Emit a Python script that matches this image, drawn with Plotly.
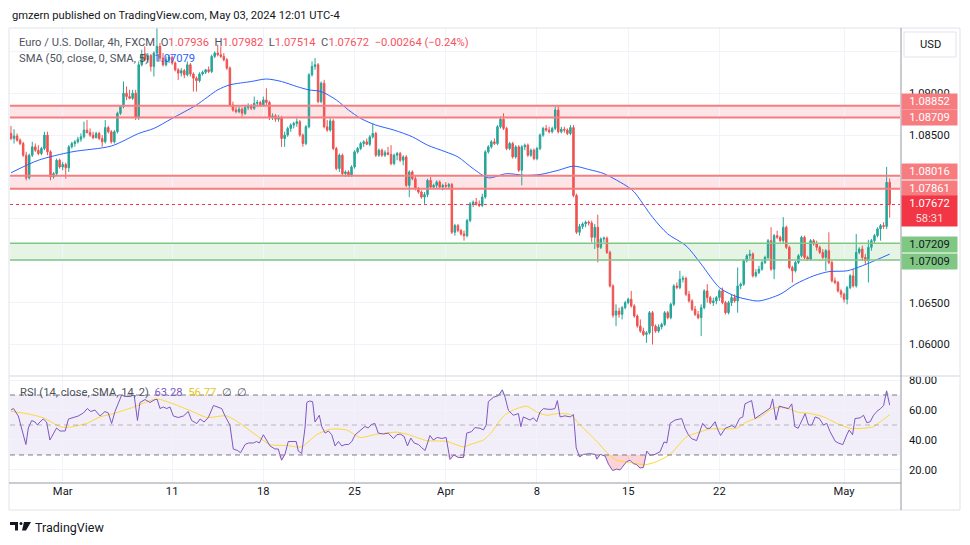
import plotly.graph_objects as go

# EUR/USD 4h (FXCM) candles, values in pips above 1.0000 (852 -> 1.0852)
opens = [852, 846, 849, 844, 840, 826, 799, 826, 836, 832,
         828, 834, 850, 830, 800, 804, 820, 812, 815, 811,
         836, 840, 842, 845, 848, 856, 853, 850, 847, 852,
         846, 842, 859, 854, 842, 854, 876, 884, 900, 896,
         894, 900, 871, 934, 946, 940, 945, 932, 948, 956,
         942, 934, 940, 943, 936, 928, 924, 927, 922, 934,
         923, 918, 915, 923, 925, 928, 926, 944, 948, 946,
         944, 940, 930, 886, 880, 878, 881, 876, 883, 885,
         882, 888, 889, 886, 892, 889, 871, 873, 869, 871,
         846, 850, 858, 862, 864, 866, 850, 840, 860, 922,
         932, 934, 890, 912, 860, 856, 867, 834, 810, 826,
         804, 806, 802, 812, 830, 834, 840, 842, 839, 848,
         852, 826, 832, 826, 829, 827, 816, 826, 828, 820,
         824, 790, 806, 798, 786, 782, 776, 779, 796, 788,
         790, 794, 788, 790, 789, 791, 734, 742, 736, 732,
         730, 748, 768, 770, 767, 766, 776, 830, 836, 842,
         840, 860, 869, 858, 834, 840, 824, 836, 808, 836,
         838, 826, 832, 822, 834, 850, 858, 856, 854, 858,
         880, 854, 857, 856, 852, 859, 778, 734, 741, 744,
         746, 745, 728, 740, 716, 726, 727, 710, 670, 635,
         640, 636, 644, 650, 654, 646, 634, 622, 616, 612,
         614, 638, 622, 616, 621, 624, 638, 632, 648, 670,
         668, 678, 679, 660, 652, 642, 636, 632, 644, 664,
         656, 650, 652, 656, 664, 650, 638, 650, 656, 652,
         670, 672, 700, 706, 708, 682, 686, 690, 698, 704,
         724, 690, 730, 728, 724, 740, 716, 692, 688, 698,
         706, 728, 704, 702, 724, 720, 716, 710, 704, 712,
         698, 676, 674, 664, 660, 654, 668, 682, 670, 710,
         714, 704, 700, 716, 724, 730, 738, 742, 741, 793.6]
highs = [861, 857, 852, 846, 842, 830, 828, 842, 840, 838,
         836, 854, 854, 832, 806, 822, 822, 818, 817, 838,
         842, 844, 848, 852, 866, 868, 858, 854, 854, 854,
         850, 868, 861, 856, 856, 878, 886, 914, 908, 904,
         904, 904, 938, 952, 956, 948, 947, 950, 978, 960,
         948, 944, 946, 945, 938, 930, 930, 929, 938, 936,
         925, 920, 925, 927, 929, 932, 946, 950, 958, 956,
         948, 942, 932, 890, 884, 884, 883, 886, 888, 887,
         896, 892, 891, 896, 906, 891, 876, 875, 874, 873,
         854, 860, 864, 866, 870, 868, 852, 862, 924, 938,
         942, 936, 914, 916, 868, 870, 869, 836, 828, 828,
         808, 808, 814, 832, 836, 842, 844, 846, 850, 864,
         854, 834, 834, 832, 836, 838, 828, 830, 830, 826,
         826, 808, 808, 802, 788, 784, 782, 798, 800, 792,
         796, 796, 792, 794, 793, 793, 744, 744, 738, 736,
         750, 770, 772, 775, 772, 780, 832, 838, 844, 846,
         862, 872, 876, 860, 842, 842, 838, 838, 838, 840,
         840, 834, 834, 836, 852, 860, 862, 860, 860, 884,
         886, 860, 860, 858, 862, 862, 780, 744, 746, 748,
         748, 748, 744, 755, 728, 729, 729, 712, 672, 648,
         644, 646, 652, 656, 664, 648, 636, 630, 620, 616,
         640, 640, 624, 624, 626, 640, 640, 650, 672, 674,
         688, 682, 681, 664, 654, 646, 640, 648, 666, 672,
         658, 656, 658, 666, 668, 652, 652, 660, 660, 692,
         674, 702, 708, 713, 710, 690, 694, 700, 706, 726,
         740, 732, 736, 730, 752, 742, 718, 694, 700, 708,
         730, 730, 706, 726, 726, 724, 718, 714, 714, 734,
         700, 680, 676, 666, 662, 670, 684, 690, 732, 716,
         718, 708, 725, 726, 732, 740, 744, 746, 812, 798.2]
lows = [844, 840, 842, 838, 824, 796, 797, 824, 830, 826,
        826, 832, 826, 796, 798, 802, 810, 808, 798, 806,
        834, 836, 840, 842, 846, 852, 848, 845, 846, 844,
        836, 840, 852, 840, 840, 852, 874, 882, 892, 893,
        892, 868, 868, 932, 938, 936, 926, 920, 938, 938,
        932, 932, 936, 934, 926, 916, 920, 918, 920, 920,
        902, 902, 913, 921, 923, 924, 924, 942, 944, 942,
        938, 928, 884, 878, 876, 876, 872, 874, 880, 880,
        880, 884, 884, 884, 886, 868, 868, 866, 866, 836,
        836, 848, 854, 858, 860, 848, 836, 838, 858, 920,
        928, 888, 888, 858, 854, 854, 832, 808, 806, 802,
        800, 800, 800, 810, 828, 832, 836, 838, 837, 846,
        824, 824, 824, 824, 826, 814, 814, 820, 818, 814,
        788, 776, 796, 784, 780, 774, 768, 776, 786, 786,
        786, 786, 784, 786, 786, 732, 730, 734, 730, 724,
        728, 746, 764, 766, 764, 764, 774, 828, 834, 838,
        838, 858, 856, 832, 832, 822, 822, 806, 790, 832,
        824, 824, 820, 820, 832, 848, 854, 852, 852, 856,
        852, 852, 853, 850, 850, 776, 732, 730, 738, 740,
        742, 722, 714, 698, 714, 722, 708, 668, 632, 622,
        632, 630, 642, 648, 644, 632, 620, 614, 610, 602,
        612, 600, 614, 614, 618, 622, 630, 630, 646, 666,
        666, 674, 658, 650, 640, 634, 630, 610, 642, 650,
        648, 646, 648, 652, 648, 636, 636, 646, 650, 638,
        666, 670, 698, 702, 680, 680, 684, 688, 696, 702,
        688, 678, 726, 722, 720, 714, 690, 674, 686, 696,
        704, 702, 700, 700, 718, 712, 708, 702, 688, 696,
        674, 672, 662, 656, 650, 648, 666, 668, 668, 708,
        700, 696, 674, 712, 720, 728, 724, 738, 738, 751.4]
closes = [846, 849, 844, 840, 826, 799, 826, 836, 832, 828,
          834, 850, 830, 800, 804, 820, 812, 815, 811, 836,
          840, 842, 845, 848, 856, 853, 850, 847, 852, 846,
          842, 859, 854, 842, 854, 876, 884, 900, 896, 894,
          900, 871, 934, 946, 940, 945, 932, 948, 956, 942,
          934, 940, 943, 936, 928, 924, 927, 922, 934, 923,
          918, 915, 923, 925, 928, 926, 944, 948, 946, 944,
          940, 930, 886, 880, 878, 881, 876, 883, 885, 882,
          888, 889, 886, 892, 889, 871, 873, 869, 871, 846,
          850, 858, 862, 864, 866, 850, 840, 860, 922, 932,
          934, 890, 912, 860, 856, 867, 834, 810, 826, 804,
          806, 802, 812, 830, 834, 840, 842, 839, 848, 852,
          826, 832, 826, 829, 827, 816, 826, 828, 820, 824,
          790, 806, 798, 786, 782, 776, 779, 796, 788, 790,
          794, 788, 790, 789, 791, 734, 742, 736, 732, 730,
          748, 768, 770, 767, 766, 776, 830, 836, 842, 840,
          860, 869, 858, 834, 840, 824, 836, 808, 836, 838,
          826, 832, 822, 834, 850, 858, 856, 854, 858, 880,
          854, 857, 856, 852, 859, 778, 734, 741, 744, 746,
          745, 728, 740, 716, 726, 727, 710, 670, 635, 640,
          636, 644, 650, 654, 646, 634, 622, 616, 612, 614,
          638, 622, 616, 621, 624, 638, 632, 648, 670, 668,
          678, 679, 660, 652, 642, 636, 632, 644, 664, 656,
          650, 652, 656, 664, 650, 638, 650, 656, 652, 670,
          672, 700, 706, 708, 682, 686, 690, 698, 704, 724,
          690, 730, 728, 724, 740, 716, 692, 688, 698, 706,
          728, 704, 702, 724, 720, 716, 710, 704, 712, 698,
          676, 674, 664, 660, 654, 668, 682, 670, 710, 714,
          704, 700, 716, 724, 730, 738, 742, 741, 793.6, 767.2]

# bar index of the first bar of each labelled day
date_bars = [17, 53, 83, 113, 143, 173, 203, 233, 274]
date_text = ["Mar", "11", "18", "25", "Apr", "8", "15", "22", "May"]

# SMA(50) (pips above 1.0000)
sma_bar = [0, 9, 20, 33, 42, 47, 53, 61, 68, 72, 79, 84, 89, 94, 98, 102, 107, 111,
           115, 120, 126, 132, 137, 143, 147, 152, 157, 163, 169, 174, 180, 185, 190,
           195, 203, 205, 211, 216, 222, 227, 233, 238, 242, 246, 253, 258, 264, 269,
           275, 280, 289]
sma_val = [805, 820, 830, 837, 852, 858, 870, 886, 904, 910, 914, 917, 914, 908, 904,
           902, 892, 880, 870, 862, 856, 848, 838, 830, 824, 810, 799, 804, 802, 803,
           808, 813, 809, 804, 788, 782, 752, 732, 718, 696, 668, 658, 654, 652, 660,
           672, 682, 687, 688, 694, 707.9]

# RSI(14)
rsi_bar = [0, 0.8, 2.4, 3.5, 4.9, 5.7, 6.8, 7.9, 8.7, 9.5, 10.6, 11.7, 12.8, 13.9, 15,
           16.1, 17.8, 18.9, 20.5, 22.1, 23.8, 25.1, 26.2, 27.6, 29.3, 30.9, 32, 33.1,
           34.2, 35.3, 36.4, 37.5, 39.1, 40.5, 41.6, 42.4, 44.1, 45.7, 47.4, 48.1, 49,
           50.1, 51.2, 52.3, 53.4, 55, 56.7, 58.3, 59.4, 61.1, 62.2, 63.5, 64.9, 66.6,
           68.2, 69.3, 70.4, 72, 73.1, 74.5, 75.5, 77, 78.1, 79.7, 80.8, 81.7, 83, 84.1,
           85.2, 86.8, 87.9, 89, 90.1, 91.2, 92.7, 93.8, 94.5, 95.6, 96.7, 97.3, 98.1,
           99.2, 100, 101.4, 102.2, 103.3, 104.4, 105.5, 106.6, 107.7, 108.8, 109.9,
           111, 112.1, 113.2, 114.8, 116.4, 117.5, 118.6, 119.7, 120.8, 122.5, 124.1,
           125.8, 126.9, 128, 129.3, 130.4, 131.5, 132.6, 134, 135.1, 136.2, 137.8,
           138.9, 140.2, 141.7, 143.1, 144.4, 145.7, 147.1, 148.8, 149.9, 151.5, 152.6,
           154.3, 155.4, 156.3, 157, 158.7, 160.3, 161.6, 162.5, 163.6, 165.2, 166.9,
           167.7, 168.5, 169.6, 170.7, 171.8, 172.9, 174, 175.1, 177.3, 178.9, 179.7,
           180.6, 182.2, 183.9, 185, 185.9, 187, 188.3, 190.5, 192.1, 192.7, 193.8,
           195.4, 196.5, 197.9, 199.2, 200.3, 201.4, 202.5, 203.6, 204.7, 205.8, 206.9,
           208, 209.1, 210.2, 211.8, 213.5, 214.8, 215.7, 216.8, 218.4, 219.9, 220.6,
           221.7, 222.8, 223.9, 225.5, 227.5, 228.8, 229.9, 231.6, 232.3, 233.4, 234.9,
           237.1, 238.2, 239.6, 240.7, 241.4, 242.5, 243.6, 244.7, 246.4, 248, 249.7,
           250.5, 251.6, 252.7, 254, 255.7, 256.8, 257.8, 258.9, 261.2, 262.3, 263.4,
           264.5, 265.9, 267.2, 268.3, 269.4, 271.1, 272.1, 273.6, 274.9, 275.7, 276.8,
           277.6, 279.3, 280.4, 281.5, 282.6, 283.7, 284.8, 286, 287, 288, 289]
rsi_val = [60, 61, 56, 48, 37, 48, 53, 52, 50, 52, 54, 52, 40, 44, 48,
           46, 46, 54, 55, 56, 58, 61, 59, 60, 56, 59, 58, 51,
           59, 64, 70, 69, 69, 70, 53, 65, 67, 65, 67, 67, 61,
           62, 61, 62, 56, 55, 56, 59, 53, 51, 54, 52, 55, 63,
           62, 61, 56, 50, 34, 33, 31.5, 37, 38, 38, 39, 38, 43.5, 40,
           36, 34, 34, 26.5, 30.4, 39, 39, 39, 32.6, 31, 48, 65, 66,
           65.6, 52, 56.5, 49, 44.6, 46, 43.5, 36, 39, 36, 37,
           37, 39, 43.5, 46, 49, 48, 50.4, 51, 44.6, 44, 44.6,
           41, 43.5, 44, 42.4, 36, 41.3, 38, 37, 34.8, 33, 43,
           40, 41.7, 41, 41.7, 27, 30, 28.3, 28.3, 44.6, 45.6, 48.3,
           47.8, 46.7, 50, 65.6, 68.5, 69.6, 73.5, 68.5, 59.8, 56.5, 57.6,
           48.9, 55.4, 54.3, 53.3, 54.8, 52.2, 58.7, 60.9, 60.4, 60.9, 66.3,
           55.4, 56.1, 55.4, 57, 34.8, 28.7, 30.4, 30.9, 30.4, 27.2, 30.4,
           29.3, 23.9, 19.6, 20.6, 20, 22.8, 25.6, 26.5, 24.3, 23.5, 21.3,
           21.7, 32.6, 29.8, 30.4, 32.2, 38.7, 38, 51.1, 53.3, 54.3, 54.3,
           47.8, 43.5, 40.8, 39.6, 51.1, 47.8, 47.8, 52.2, 47.8, 43, 47.8,
           49.6, 48.3, 54.3, 55.4, 64.1, 65.2, 66.3, 54.3, 56.5, 59.1, 61.3,
           67.4, 53.3, 62.6, 61.9, 60.9, 64.1, 48.9, 47.8, 57.6, 50, 50,
           55.4, 54.3, 50, 51.1, 45.6, 39.1, 38, 36.9, 43.5, 46.7, 43.5,
           54.3, 54.8, 56.5, 51.5, 52.2, 56.5, 59.1, 60.9, 63, 72.8, 63.28]

# SMA(14) of the RSI
rsima_bar = [0, 5.2, 10.6, 16.1, 18.3, 24.9, 29.3, 33.7, 40.2, 47.9, 53.4, 60, 64.4,
             70.9, 75.3, 81.9, 85.2, 90.7, 95.6, 100.5, 104.9, 110.4, 114.8, 120.3,
             126.9, 130.2, 136.7, 143.3, 148.8, 151, 155.4, 158, 162, 165.2, 169.6,
             172.9, 176.2, 179.5, 183.9, 187.2, 192.7, 196, 199.2, 203.6, 208.6, 212.4,
             216.8, 222.3, 225.5, 229.9, 234.3, 238.7, 242, 246.4, 250.8, 255.2, 258.5,
             262.9, 267.3, 271.6, 276, 280.4, 283.7, 285.9, 289]
rsima_val = [59.1, 57.6, 54.8, 48.9, 48.3, 51.1, 55.4, 57.6, 61.9, 67.4, 64.1, 58.7, 55,
             56.1, 51.1, 41.3, 36.9, 36.3, 35.4, 43.5, 47.2, 46.7, 41.7, 43.9,
             45.2, 43.9, 39.6, 39.1, 35.4, 37, 40, 45, 56, 60, 62.6,
             58.7, 56.5, 57.6, 57, 50, 39.1, 31.5, 26.5, 25, 23.5, 25.6,
             30.4, 42.4, 44.6, 47.4, 47.4, 47.8, 52.2, 55.4, 61.3, 61.3, 58.7,
             57.6, 55.4, 51.1, 47.8, 47.8, 48.9, 52.2, 56.77]

# horizontal zones drawn on the chart (bottom, top, kind)
zone_lo = [1.08709, 1.07861, 1.07009]
zone_hi = [1.08852, 1.08016, 1.07209]
zone_kind = ["red", "red", "green"]

UP, DOWN = "#26a69a", "#ef5350"


def price(v):
    return 1 + v / 10000


# the page body has an 8px margin, so the figure sits at (8, 8) in the window;
# px/py convert window pixels into paper coordinates of the plot area
L, R, T, B = 2, 70, 20, 62
FW, FH = 962, 537
W, H = FW - L - R, FH - T - B


def px(x):
    return (x - 8 - L) / W


def py(y):
    return (FH - B + 8 - y) / H


bars = list(range(len(closes)))
fig = go.Figure()

fig.add_trace(go.Candlestick(
    x=bars, open=[price(v) for v in opens], high=[price(v) for v in highs],
    low=[price(v) for v in lows], close=[price(v) for v in closes],
    increasing=dict(line=dict(color=UP, width=1), fillcolor=UP),
    decreasing=dict(line=dict(color=DOWN, width=1), fillcolor=DOWN),
    whiskerwidth=0, xaxis="x", yaxis="y", hoverinfo="skip"))

fig.add_trace(go.Scatter(x=sma_bar, y=[price(v) for v in sma_val], mode="lines",
                         line=dict(color="#2962ff", width=1, shape="spline", smoothing=0.8),
                         xaxis="x", yaxis="y"))

# RSI oversold / overbought fills
fig.add_trace(go.Scatter(x=rsi_bar, y=[30] * len(rsi_bar), mode="lines", line=dict(width=0),
                         xaxis="x2", yaxis="y2"))
fig.add_trace(go.Scatter(x=rsi_bar, y=[min(v, 30) for v in rsi_val], mode="lines",
                         line=dict(width=0), fill="tonexty", fillcolor="rgba(242,54,69,0.22)",
                         xaxis="x2", yaxis="y2"))
fig.add_trace(go.Scatter(x=rsi_bar, y=[70] * len(rsi_bar), mode="lines", line=dict(width=0),
                         xaxis="x2", yaxis="y2"))
fig.add_trace(go.Scatter(x=rsi_bar, y=[max(v, 70) for v in rsi_val], mode="lines",
                         line=dict(width=0), fill="tonexty", fillcolor="rgba(8,153,129,0.22)",
                         xaxis="x2", yaxis="y2"))
fig.add_trace(go.Scatter(x=rsima_bar, y=rsima_val, mode="lines",
                         line=dict(color="#fdd835", width=1, shape="spline", smoothing=0.6),
                         xaxis="x2", yaxis="y2"))
fig.add_trace(go.Scatter(x=rsi_bar, y=rsi_val, mode="lines",
                         line=dict(color="#7e57c2", width=1), xaxis="x2", yaxis="y2"))

shapes = []
# zones
for lo, hi, kind in zip(zone_lo, zone_hi, zone_kind):
    fill = "rgba(242,54,69,0.13)" if kind == "red" else "rgba(76,175,80,0.14)"
    edge = "#f77c80" if kind == "red" else "#81c784"
    shapes.append(dict(type="rect", xref="paper", yref="y", x0=0, x1=1, y0=lo, y1=hi,
                       fillcolor=fill, line=dict(width=0), layer="below"))
    for yv in (lo, hi):
        shapes.append(dict(type="line", xref="paper", yref="y", x0=0, x1=1, y0=yv, y1=yv,
                           line=dict(color=edge, width=2 if kind == "red" else 1.5)))

last = price(closes[-1])
shapes.append(dict(type="line", xref="paper", yref="y", x0=0, x1=1, y0=last, y1=last,
                   line=dict(color="#f23645", width=1, dash="dot")))

# RSI band and levels
shapes.append(dict(type="rect", xref="paper", yref="y2", x0=0, x1=1, y0=30, y1=70,
                   fillcolor="rgba(126,87,194,0.1)", line=dict(width=0), layer="below"))
for lvl, col in ((70, "#787b86"), (50, "rgba(120,123,134,0.5)"), (30, "#787b86")):
    shapes.append(dict(type="line", xref="paper", yref="y2", x0=0, x1=1, y0=lvl, y1=lvl,
                       line=dict(color=col, width=1, dash="5px,4px")))

# frame, pane separator, axis borders
frame = "#e0e3eb"
ink = "#131722"
shapes += [
    dict(type="rect", xref="paper", yref="paper", x0=px(9), x1=px(960), y0=py(510), y1=py(28),
         line=dict(color=frame, width=1)),
    # the pane separator clips the top of the "80.00" label
    dict(type="rect", xref="paper", yref="paper", x0=px(902), x1=px(959), y0=py(376), y1=py(368),
         line=dict(width=0), fillcolor="white"),
    dict(type="line", xref="paper", yref="paper", x0=px(9), x1=px(960), y0=py(376), y1=py(376),
         line=dict(color=frame, width=1.5)),
    dict(type="line", xref="paper", yref="paper", x0=px(9), x1=px(901), y0=py(483), y1=py(483),
         line=dict(color="#9598a1", width=1)),
    dict(type="line", xref="paper", yref="paper", x0=px(901), x1=px(901), y0=py(510), y1=py(28),
         line=dict(color="#9598a1", width=1)),
    # USD button
    dict(type="rect", xref="paper", yref="paper", x0=px(904), x1=px(956), y0=py(57), y1=py(32),
         line=dict(color=frame, width=1), fillcolor="white"),
    # TradingView logo
    dict(type="rect", xref="paper", yref="paper", x0=px(10), x1=px(18), y0=py(525), y1=py(522),
         line=dict(width=0), fillcolor=ink),
    dict(type="rect", xref="paper", yref="paper", x0=px(15), x1=px(18), y0=py(530.5), y1=py(522),
         line=dict(width=0), fillcolor=ink),
    dict(type="circle", xref="paper", yref="paper", x0=px(19.5), x1=px(22.5), y0=py(525), y1=py(522),
         line=dict(width=0), fillcolor=ink),
    dict(type="path", xref="paper", yref="paper", line=dict(width=0), fillcolor=ink,
         path=f"M {px(24)} {py(522)} L {px(31)} {py(522)} L {px(26)} {py(530.5)} "
              f"L {px(22)} {py(530.5)} Z"),
]

FONT = "Roboto"
FS = 11.2
ann = []
ann.append(dict(xref="paper", yref="paper", x=px(10), y=py(15), xanchor="left", yanchor="middle",
                text="gmzern published on TradingView.com, May 03, 2024 12:01 UTC-4",
                showarrow=False, font=dict(family=FONT, size=FS, color=ink)))

o, h, l, c = (price(v) for v in (opens[-1], highs[-1], lows[-1], closes[-1]))
chg = (closes[-1] - closes[-2]) / 10000
pct = chg / price(closes[-2]) * 100
red = "#f7525f"
head = ("Euro / U.S. Dollar, 4h, FXCM&nbsp;&nbsp;"
        f"O<span style='color:{red}'>{o:.5f}</span>&nbsp;&nbsp;"
        f"H<span style='color:{red}'>{h:.5f}</span>&nbsp;&nbsp;"
        f"L<span style='color:{red}'>{l:.5f}</span>&nbsp;&nbsp;"
        f"C<span style='color:{red}'>{c:.5f}</span>&nbsp;&nbsp;"
        f"<span style='color:{red}'>{chg:+.5f} ({pct:+.2f}%)</span>").replace("-", "−")
ann.append(dict(xref="paper", yref="paper", x=px(17), y=py(42), xanchor="left", yanchor="middle",
                text=head, showarrow=False, font=dict(family=FONT, size=FS, color="#50535e")))
ann.append(dict(xref="paper", yref="paper", x=px(17), y=py(59), xanchor="left", yanchor="middle",
                text=f"SMA (50, close, 0, SMA, 5)&nbsp;&nbsp;<span style='color:#2962ff'>"
                     f"{price(sma_val[-1]):.5f}</span>",
                showarrow=False, font=dict(family=FONT, size=FS, color="#50535e")))
ann.append(dict(xref="paper", yref="paper", x=px(18), y=py(392), xanchor="left", yanchor="middle",
                text=f"RSI (14, close, SMA, 14, 2)&nbsp;&nbsp;<span style='color:#7e57c2'>"
                     f"{rsi_val[-1]:.2f}</span>&nbsp;&nbsp;<span style='color:#e6c619'>"
                     f"{rsima_val[-1]:.2f}</span>&nbsp;&nbsp;∅&nbsp;&nbsp;∅",
                showarrow=False, font=dict(family=FONT, size=FS, color="#50535e")))
ann.append(dict(xref="paper", yref="paper", x=px(930), y=py(45), xanchor="center", yanchor="middle",
                text="USD", showarrow=False, font=dict(family=FONT, size=FS, color=ink)))
ann.append(dict(xref="paper", yref="paper", x=px(33), y=py(527), xanchor="left", yanchor="middle",
                text="TradingView", showarrow=False, font=dict(family=FONT, size=12.5, color=ink)))

# price labels on the right axis
shifts = {1.08852: 4, 1.08709: 0, 1.08016: 4, 1.07861: 0, 1.07209: -1, 1.07009: -1}
for lo, hi, kind in zip(zone_lo, zone_hi, zone_kind):
    for yv in (hi, lo):
        bg = "#f77c80" if kind == "red" else "#81c784"
        fc = "white" if kind == "red" else ink
        ann.append(dict(xref="paper", yref="y", x=px(901), y=yv, xanchor="left", yanchor="middle",
                        yshift=shifts.get(yv, 0), text=f"{yv:.5f}", showarrow=False,
                        bgcolor=bg, width=55, height=15, borderpad=0,
                        font=dict(family=FONT, size=FS, color=fc)))
ann.append(dict(xref="paper", yref="y", x=px(901), y=last, xanchor="left", yanchor="top", yshift=9,
                text=f"{last:.5f}<br><span style='color:#fcdede'>58:31</span>", showarrow=False,
                bgcolor="#f23645", width=55, height=30, borderpad=0,
                font=dict(family=FONT, size=FS, color="white")))

grid = "#f0f3fa"
xr = [-0.33, 292.4]
fig.update_layout(
    width=FW, height=FH, margin=dict(l=L, r=R, t=T, b=B),
    paper_bgcolor="white", plot_bgcolor="white", showlegend=False,
    font=dict(family=FONT, size=FS, color=ink),
    shapes=shapes, annotations=ann,
    xaxis=dict(domain=[0, 1], anchor="y", range=xr, tickvals=date_bars, showticklabels=False,
               showgrid=True, gridcolor=grid, zeroline=False, rangeslider=dict(visible=False)),
    xaxis2=dict(domain=[0, 1], anchor="y2", range=xr, matches="x", tickvals=date_bars,
                ticktext=date_text, showgrid=True, gridcolor=grid, zeroline=False,
                tickfont=dict(family=FONT, size=FS, color=ink)),
    yaxis=dict(domain=[(483 - 376) / H, 1], side="right", range=[1.05624, 1.09779],
               tickvals=[1.06, 1.065, 1.07, 1.075, 1.08, 1.085, 1.09, 1.095],
               ticktext=["1.06000", "1.06500", "", "", "", "1.08500", "1.09000", ""],
               gridcolor=grid, zeroline=False, ticklabelstandoff=8,
               tickfont=dict(family=FONT, size=FS, color=ink)),
    yaxis2=dict(domain=[0, (483 - 376) / H], side="right", range=[11.3, 82.7],
                tickvals=[20, 40, 60, 80], ticktext=["20.00", "40.00", "60.00", "80.00"],
                gridcolor=grid, zeroline=False, ticklabelstandoff=8,
                tickfont=dict(family=FONT, size=FS, color=ink)),
)

fig.write_html("out.html")
